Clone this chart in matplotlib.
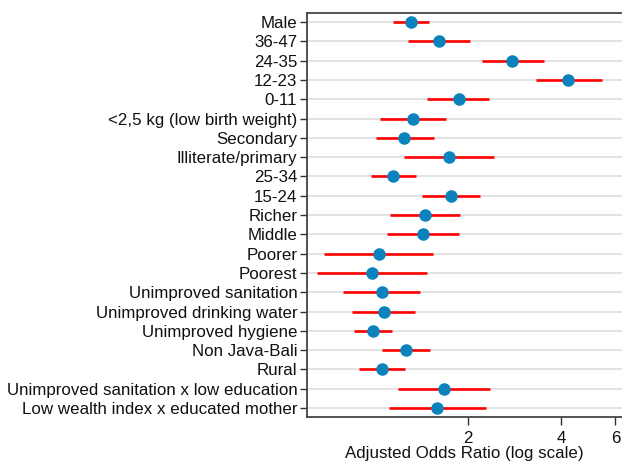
import numpy as np
import matplotlib.pyplot as plt
from matplotlib.ticker import FixedLocator, NullLocator, FixedFormatter

plt.rcParams['font.family'] = ['Liberation Sans', 'DejaVu Sans']

# Data
labels = ["Male", "36-47", "24-35", "12-23", "0-11", "<2,5 kg (low birth weight)",
          "Secondary", "Illiterate/primary", "25-34", "15-24", "Richer", "Middle",
          "Poorer", "Poorest", "Unimproved sanitation", "Unimproved drinking water",
          "Unimproved hygiene", "Non Java-Bali", "Rural",
          "Unimproved sanitation x low education",
          "Low wealth index x educated mother"]
aor = [1.31, 1.62, 2.79, 4.23, 1.87, 1.335, 1.249, 1.745, 1.151, 1.767, 1.456, 1.432,
       1.032, 0.982, 1.055, 1.074, 0.99, 1.265, 1.055, 1.677, 1.595]
ci_low = [1.146, 1.286, 2.22, 3.32, 1.48, 1.044, 1.01, 1.249, 0.977, 1.427, 1.123, 1.096,
          0.689, 0.654, 0.794, 0.848, 0.862, 1.058, 0.89, 1.19, 1.117]
ci_high = [1.497, 2.035, 3.53, 5.41, 2.35, 1.70, 1.554, 2.44, 1.36, 2.19, 1.89, 1.87,
           1.55, 1.478, 1.40, 1.352, 1.137, 1.516, 1.258, 2.37, 2.29]
xticks = [2, 4, 6]

fig = plt.figure(figsize=(6.22, 4.63), dpi=100)
ax = fig.add_axes([0.4936, 0.100, 0.5064, 0.872])

y = np.arange(len(labels))
for yi in y:
    ax.axhline(yi, color='#e0e0e0', lw=1.3, zorder=0)
ax.hlines(y, ci_low, ci_high, color='#ff0000', lw=1.9, zorder=2)
ax.plot(aor, y, 'o', color='#0a83bd', ms=8, zorder=3)

ax.set_xscale('log')
ax.set_xlim(0.606, 6.3)
ax.set_ylim(len(labels) - 0.55, -0.47)
ax.xaxis.set_major_locator(FixedLocator(xticks))
ax.xaxis.set_major_formatter(FixedFormatter([str(t) for t in xticks]))
ax.xaxis.set_minor_locator(NullLocator())
ax.set_yticks(y)
ax.set_yticklabels(labels)
ax.tick_params(axis='y', labelsize=12.2, length=5, width=1, color='#333333',
               labelcolor='#111111', pad=2)
ax.tick_params(axis='x', labelsize=12.2, length=6, width=1, color='#333333',
               labelcolor='#111111', pad=4)
ax.set_xlabel("Adjusted Odds Ratio (log scale)", fontsize=12.2, color='#111111', labelpad=0)

for side in ['left', 'bottom', 'top']:
    ax.spines[side].set_color('#444444')
    ax.spines[side].set_linewidth(1.3)
ax.spines['right'].set_visible(False)

fig.savefig("out.png", dpi=100)
